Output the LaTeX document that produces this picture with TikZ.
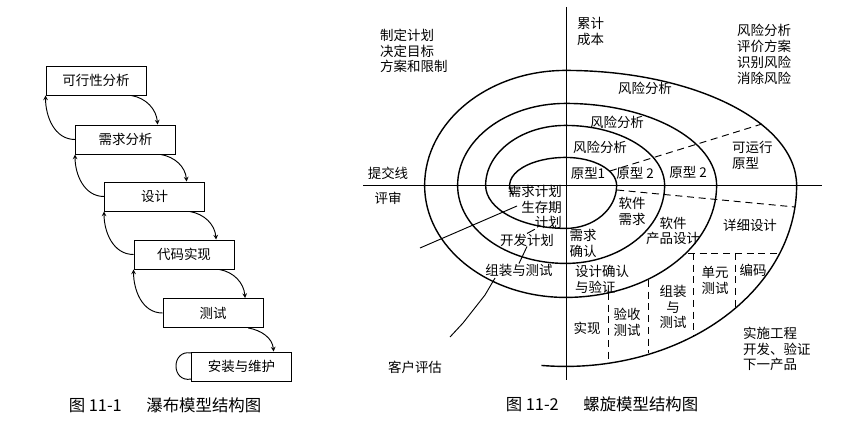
\documentclass[tikz,border=0pt]{standalone}
\usepackage{fontspec}
\setmainfont{Noto Sans CJK SC}
\usetikzlibrary{positioning}
\usetikzlibrary{arrows.meta}

\begin{document}
\begin{tikzpicture}[
        x=0.03cm, y=0.03cm,
        >=stealth,
        stagebox/.style={rectangle, draw=black, line width=0.8pt, minimum width=3cm, minimum height=0.87cm, font=\fontsize{11.5}{13.5}\selectfont},
        lbl/.style={inner sep=0pt, align=center, font=\fontsize{11.5}{13.5}\selectfont},
        captiontext/.style={inner sep=0pt, font=\fontsize{14}{16}\selectfont},
        ring/.style={line width=1.2pt},
        axisline/.style={line width=0.6pt},
        split/.style={line width=0.8pt, dash pattern=on 6pt off 4pt},
        pointer/.style={line width=0.8pt}
    ]

        \useasboundingbox (0,0) rectangle (847,-430);

        % Waterfall
        \node [stagebox] (Stage1) at (96,-80.5) {可行性分析};
        \node [stagebox] (Stage2) at (125.5,-139.5) {需求分析};
        \node [stagebox] (Stage3) at (154.5,-196.5) {设计};
        \node [stagebox] (Stage4) at (184,-254.5) {代码实现};
        \node [stagebox] (Stage5) at (213,-313) {测试};
        \node [stagebox] (Stage6) at (241.5,-366.5) {安装与维护};

        \path[->, line width=0.8pt] (Stage1.-23) edge [ out=-10, in=95 ] (Stage2.25) ;
        \path[->, line width=0.8pt] (Stage2.-23) edge [ out=-10, in=95 ] (Stage3.25) ;
        \path[->, line width=0.8pt] (Stage3.-23) edge [ out=-10, in=95 ] (Stage4.25) ;
        \path[->, line width=0.8pt] (Stage4.-23) edge [ out=-10, in=95 ] (Stage5.25) ;
        \path[->, line width=0.8pt] (Stage5.-23) edge [ out=-10, in=95 ] (Stage6.25) ;

        % Feedback arrows
        \path[->, line width=0.8pt] (Stage2.west) edge [ out=180, in=-90 ] (Stage1.south west) ;
        \path[->, line width=0.8pt] (Stage3.west) edge [ out=180, in=-90 ] (Stage2.south west) ;
        \path[->, line width=0.8pt] (Stage4.west) edge [ out=180, in=-90 ] (Stage3.south west) ;
        \path[->, line width=0.8pt] (Stage5.west) edge [ out=180, in=-90 ] (Stage4.south west) ;
        \path[line width=0.8pt] (Stage6.165) edge [ out=170, in=190, looseness=2 ] (Stage6.194) ;

        \node [captiontext] (CaptionWaterfall) at (165,-405) {图 11-1\hspace{1.5em}瀑布模型结构图};

        % Spiral
        \draw [axisline] (566,-7) -- (566,-380);
        \draw [axisline] (363,-185) -- (822,-185);

        \draw [ring] (513,-195)
            arc[start angle=200, end angle=90, x radius=56, y radius=28]
            arc[start angle=90, end angle=0, x radius=51, y radius=28]
            arc[start angle=0, end angle=-90, x radius=51, y radius=43]
            arc[start angle=270, end angle=180, x radius=80, y radius=43]
            arc[start angle=180, end angle=90, x radius=80, y radius=60]
            arc[start angle=90, end angle=0, x radius=99, y radius=60]
            arc[start angle=0, end angle=-90, x radius=99, y radius=78]
            arc[start angle=270, end angle=180, x radius=108, y radius=78]
            arc[start angle=180, end angle=90, x radius=108, y radius=82]
            arc[start angle=90, end angle=0, x radius=151, y radius=82]
            arc[start angle=0, end angle=-90, x radius=151, y radius=112]
            arc[start angle=270, end angle=180, x radius=141, y radius=112]
            arc[start angle=180, end angle=90, x radius=141, y radius=115]
            arc[start angle=90, end angle=0, x radius=231, y radius=115]
            arc[start angle=0, end angle=-96, x radius=231, y radius=181];

        \draw [split] (610,-171) -- (762,-124);
        \draw [split] (617,-190) -- (795,-207);
        \draw [split] (688,-253) -- (780,-253);
        \draw [split] (693,-253) -- (693,-336);
        \draw [split] (735,-253) -- (735,-307);
        \draw [split] (648,-280) -- (648,-353);
        \draw [split] (608,-293) -- (608,-363);

        \node [lbl, anchor=west, align=left] (PlanGoal) at (380,-51) {制定计划\\决定目标\\方案和限制};
        \node [lbl, anchor=west, align=left] (Cost) at (577,-31.5) {累计\\成本};
        \node [lbl, anchor=west, align=left] (RiskList) at (737,-54.5) {风险分析\\评价方案\\识别风险\\消除风险};
        \node [lbl] (RiskOuter) at (645,-88) {风险分析};
        \node [lbl] (RiskMiddle) at (617,-122) {风险分析};
        \node [lbl] (RiskInner) at (600,-147) {风险分析};
        \node [lbl] (Proto1) at (588,-173) {原型1};
        \node [lbl] (Proto2) at (635,-173) {原型 2};
        \node [lbl] (Proto3) at (688,-172) {原型 2};
        \node [lbl, anchor=west, align=left] (RunProto) at (732,-155) {可运行\\原型};
        \node [lbl] (Submit) at (388,-173) {提交线};
        \node [lbl] (Review) at (388,-198) {评审};
        \node [lbl, anchor=east, align=right] (LifePlan) at (562,-207) {需求计划\\生存期\\计划};
        \node [lbl] (DevPlan) at (527,-240) {开发计划};
        \node [lbl] (IntegTest) at (519,-270) {组装与测试};
        \node [lbl] (ReqCheck) at (583,-243) {需求\\确认};
        \node [lbl] (SoftReq) at (632,-211) {软件\\需求};
        \node [lbl] (ProdDesign) at (673,-231) {软件\\产品设计};
        \node [lbl] (DetailDesign) at (750,-225) {详细设计};
        \node [lbl, anchor=west, align=left] (DesignCheck) at (575,-279.5) {设计确认\\与验证};
        \node [lbl] (Implement) at (587,-328) {实现};
        \node [lbl] (AcceptTest) at (627,-322) {验收\\测试};
        \node [lbl] (IntegTest2) at (673,-307) {组装\\与\\测试};
        \node [lbl] (UnitTest) at (715,-280) {单元\\测试};
        \node [lbl] (Coding) at (753,-270) {编码};
        \node [lbl, anchor=west, align=left] (NextProduct) at (743,-349) {实施工程\\开发、验证\\下一产品};
        \node [lbl] (ClientEval) at (415,-367) {客户评估};

        % Customer evaluation strokes
        \coordinate (EvalA) at (420,-248);
        \coordinate (EvalB) at (517,-206);
        \coordinate (EvalC) at (495,-278);
        \coordinate (EvalD) at (450,-337);
        \draw [pointer] (EvalA) -- (EvalB);
        \draw [pointer] (LifePlan.south) -- (DevPlan.north);
        \draw [pointer] (DevPlan.south) -- (IntegTest.north);
        \draw [pointer] (EvalC) -- (485,-295) -- (474,-309) -- (463,-323) -- (EvalD);

        \node [captiontext] (CaptionSpiral) at (602,-404) {图 11-2\hspace{1.5em}螺旋模型结构图};

    \end{tikzpicture}
\end{document}
